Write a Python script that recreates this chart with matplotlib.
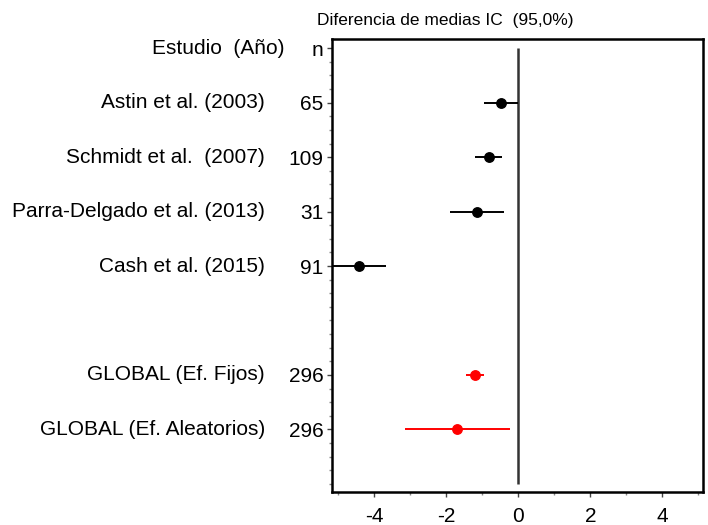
import matplotlib.pyplot as plt
from matplotlib.ticker import MultipleLocator
from matplotlib.transforms import blended_transform_factory

plt.rcParams["font.family"] = ["Liberation Sans", "DejaVu Sans"]
plt.rcParams["axes.unicode_minus"] = False

# data
studies = ["Astin et al. (2003)", "Schmidt et al.  (2007)",
           "Parra-Delgado et al. (2013)", "Cash et al. (2015)",
           "GLOBAL (Ef. Fijos)", "GLOBAL (Ef. Aleatorios)"]
n_values = ["65", "109", "31", "91", "296", "296"]
rows = [1, 2, 3, 4, 6, 7]
means = [-0.47, -0.82, -1.15, -4.43, -1.21, -1.71]
ci_low = [-0.94, -1.21, -1.90, -5.19, -1.44, -3.15]
ci_high = [-0.01, -0.44, -0.39, -3.67, -0.95, -0.22]
colors = ["black", "black", "black", "black", "red", "red"]

fig = plt.figure(figsize=(7.08, 5.25), dpi=100)
ax = fig.add_axes([332 / 708, 1 - 492 / 525, 371 / 708, 453 / 525])

ax.vlines(0, 0, 8, color="#333333", lw=1.8, zorder=1)
for r, m, lo, hi, c in zip(rows, means, ci_low, ci_high, colors):
    ax.hlines(r, lo, hi, color=c, lw=1.4, zorder=2)
    ax.plot(m, r, "o", color=c, ms=6.8, zorder=3)

ax.set_xlim(-5.17, 5.13)
ax.set_ylim(8.15, -0.17)
ax.xaxis.set_major_locator(MultipleLocator(2))
ax.xaxis.set_minor_locator(MultipleLocator(1))
ax.set_yticks([0] + rows)
ax.set_yticklabels(["n"] + n_values)
ax.yaxis.set_minor_locator(MultipleLocator(0.25))
ax.tick_params(axis="both", which="major", labelsize=15, length=3.5,
               width=1, color="#444444", pad=2.5)
ax.tick_params(axis="x", which="major", pad=7)
ax.tick_params(axis="both", which="minor", length=2, width=1, color="#888888")
for s in ax.spines.values():
    s.set_linewidth(1.8)

tr = blended_transform_factory(ax.transAxes, ax.transData)
for r, name in zip(rows, studies):
    ax.text(-0.181, r, name, transform=tr, ha="right", va="center",
            fontsize=15)
ax.text(-0.127, 0, "Estudio  (Año)", transform=tr, ha="right",
        va="center", fontsize=15)

fig.text(317 / 708, 1 - 20 / 525, "Diferencia de medias IC  (95,0%)",
         ha="left", va="center", fontsize=12.5)

fig.savefig("out.png", dpi=100)
